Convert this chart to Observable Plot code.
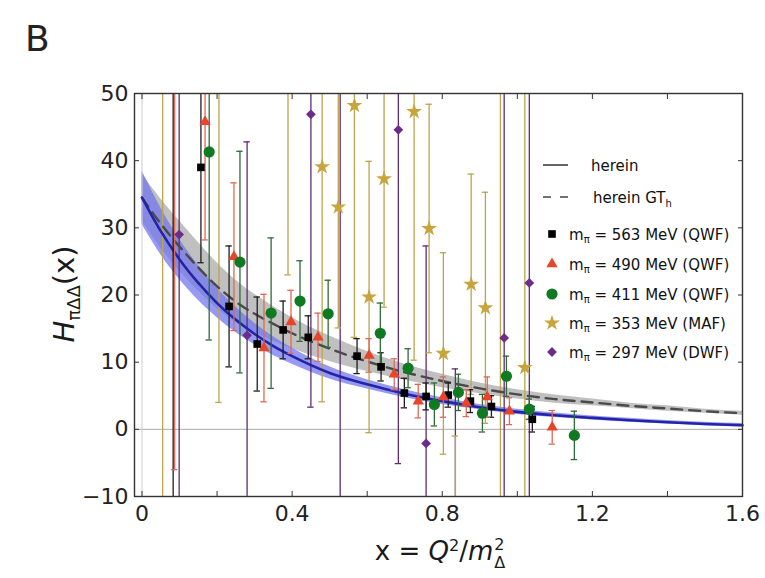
<!DOCTYPE html>
<html>
<head>
<meta charset="utf-8">
<script src="https://cdn.jsdelivr.net/npm/d3@7"></script>
<script src="https://cdn.jsdelivr.net/npm/@observablehq/plot@0.6"></script>
<style>
  html, body { margin:0; padding:0; background:#fff; }
  #wrap { position:relative; width:765px; height:578px; overflow:hidden; font-family:"DejaVu Sans", sans-serif; color:#1a1a1a; }
  #wrap > svg { position:absolute; left:0; top:0; }
  .lbl { position:absolute; white-space:nowrap; z-index:3; line-height:1; }
  #panel { left:25px; top:21px; font-size:36px; color:#222; }
  #ylab { left:64px; top:294px; font-size:29px; transform:translate(-50%,-50%) rotate(-90deg); }
  #ylab .sub { font-size:0.62em; position:relative; top:0.32em; }
  #xlab { left:440px; top:554px; font-size:26px; transform:translate(-50%,-50%); }
  #xlab sup { font-size:0.62em; vertical-align:0.55em; }
  #xlab .ss { display:inline-block; vertical-align:-0.5em; font-size:0.62em; line-height:1.12; text-align:left; margin-left:1px; }
  #xlab .ss span { display:block; }
</style>
</head>
<body>
<div id="wrap">
  <div class="lbl" id="panel">B</div>
  <div class="lbl" id="ylab"><i>H</i><span class="sub">πΔΔ</span>(x)</div>
  <div class="lbl" id="xlab">x = <i>Q</i><sup>2</sup>/<i>m</i><span class="ss"><span>2</span><span>Δ</span></span></div>
</div>
<script>
// ---------- axis ticks ----------
const xMajorTicks = [0, 0.4, 0.8, 1.2, 1.6];
const xMinorTicks = [0.2, 0.6, 1.0, 1.4];
const yTicks = [-10, 0, 10, 20, 30, 40, 50];

// ---------- model curves ----------
const curveX  = [0, 0.05, 0.1, 0.15, 0.2, 0.25, 0.3, 0.35, 0.4, 0.5, 0.6, 0.7, 0.8, 0.9, 1.0, 1.1, 1.2, 1.3, 1.4, 1.5, 1.6];
const herein   = [34.5, 29.5, 25.3, 21.8, 18.8, 16.3, 14.2, 12.4, 10.9, 8.4, 6.7, 5.3, 4.2, 3.3, 2.6, 2.1, 1.7, 1.35, 1.05, 0.8, 0.6];
const hereinLo = [30.5, 26.0, 22.3, 19.2, 16.6, 14.4, 12.6, 11.0, 9.7, 7.5, 6.0, 4.7, 3.7, 2.9, 2.2, 1.75, 1.4, 1.05, 0.8, 0.55, 0.35];
const hereinHi = [38.5, 33.0, 28.3, 24.4, 21.0, 18.2, 15.8, 13.8, 12.1, 9.3, 7.4, 5.9, 4.7, 3.7, 3.0, 2.45, 2.0, 1.65, 1.3, 1.05, 0.85];
const gtH   = [34.5, 30.6, 27.2, 24.1, 21.3, 19.0, 17.2, 15.7, 14.3, 12.0, 10.1, 8.5, 7.2, 6.1, 5.2, 4.5, 4.0, 3.5, 3.1, 2.7, 2.4];
const gtHLo = [31.0, 27.0, 23.6, 20.6, 18.0, 15.9, 14.4, 13.1, 12.0, 10.1, 8.6, 7.3, 6.2, 5.3, 4.5, 3.9, 3.5, 3.1, 2.7, 2.4, 2.1];
const gtHHi = [38.0, 34.3, 31.0, 27.8, 24.8, 22.2, 20.1, 18.3, 16.6, 13.9, 11.6, 9.7, 8.2, 6.9, 5.9, 5.1, 4.5, 3.9, 3.5, 3.0, 2.7];

// ---------- lattice data ----------
// m_pi = 563 MeV (QWF)
const q563X = [0.083, 0.157, 0.232, 0.307, 0.376, 0.443, 0.573, 0.637, 0.699, 0.757, 0.816, 0.875, 0.931, 1.04];
const q563Y = [60, 39.0, 18.3, 12.7, 14.8, 13.7, 10.9, 9.3, 5.4, 4.9, 5.1, 4.2, 3.4, 1.5];
const q563E = [75, 14.2, 9.0, 7.0, 4.3, 3.2, 2.6, 2.1, 2.2, 2.0, 1.8, 1.7, 1.6, 1.9];
// m_pi = 490 MeV (QWF)
const q490X = [0.087, 0.168, 0.245, 0.325, 0.397, 0.469, 0.605, 0.672, 0.736, 0.803, 0.864, 0.92, 0.979, 1.093];
const q490Y = [55, 45.8, 25.7, 12.1, 16.0, 13.7, 11.0, 8.2, 4.2, 4.8, 3.9, 4.8, 2.7, 0.3];
const q490E = [61, 17.6, 11.0, 8.0, 4.7, 3.6, 2.5, 2.3, 2.5, 3.0, 2.0, 3.0, 2.0, 2.5];
// m_pi = 411 MeV (QWF)
const q411X = [0.179, 0.261, 0.344, 0.421, 0.496, 0.635, 0.709, 0.779, 0.843, 0.907, 0.971, 1.032, 1.152];
const q411Y = [41.3, 24.9, 17.3, 19.1, 17.2, 14.3, 9.1, 3.7, 5.5, 2.4, 7.9, 3.0, -0.9];
const q411E = [28, 16.5, 11.2, 6.0, 5.0, 4.5, 2.9, 3.2, 2.7, 2.8, 3.0, 1.5, 3.6];
// m_pi = 353 MeV (MAF)
const m353X = [0.055, 0.205, 0.389, 0.48, 0.523, 0.566, 0.605, 0.645, 0.725, 0.765, 0.803, 0.835, 0.877, 0.915, 0.955, 1.02];
const m353Y = [62, 54, 52, 39.1, 33.1, 48.2, 19.7, 37.3, 47.3, 29.9, 11.3, -20, 21.6, 18.1, 62, 9.2];
const m353E = [80, 50, 29, 35, 18, 34.5, 20.2, 19.1, 37, 18.5, 15.0, 19, 16.4, 17.2, 80, 45];
// m_pi = 297 MeV (DWF)
const d297X = [0.099, 0.28, 0.45, 0.528, 0.683, 0.757, 0.835, 0.965, 1.032];
const d297Y = [29, 14, 46.9, 62, 44.6, -2.1, -16, 13.6, 21.8];
const d297E = [50, 28.8, 43.6, 80, 49.7, 29.4, 25, 40, 34];

const legendLabels = ["563 MeV (QWF)", "490 MeV (QWF)", "411 MeV (QWF)", "353 MeV (MAF)", "297 MeV (DWF)"];

// ---------- build tables ----------
const curveRows = curveX.map((x, i) => ({x, h: herein[i], hLo: hereinLo[i], hHi: hereinHi[i], g: gtH[i], gLo: gtHLo[i], gHi: gtHHi[i]}));
const rows = (xs, ys, es) => xs.map((x, i) => ({x, y: ys[i], e: es[i]}));

const S563 = {rows: rows(q563X, q563Y, q563E), symbol: "square",   fill: "#000000", bar: "#1e1e1e", r: 4.3};
const S490 = {rows: rows(q490X, q490Y, q490E), symbol: "triangle", fill: "#e8442c", bar: "#dd6a55", r: 4.2};
const S411 = {rows: rows(q411X, q411Y, q411E), symbol: "circle",   fill: "#107a22", bar: "#2f6b38", r: 5.6};
const S353 = {rows: rows(m353X, m353Y, m353E), symbol: "star",     fill: "#c8a53c", bar: "#bba44e", r: 5.0};
const S297 = {rows: rows(d297X, d297Y, d297E), symbol: "diamond2", fill: "#6c2c8b", bar: "#5e2d70", r: 4.4};
const legendSeries = [S563, S490, S411, S353, S297];

const capHalf = 0.0085;
function errMarks(s) {
  return [
    Plot.ruleX(s.rows, {x: "x", y1: d => d.y - d.e, y2: d => d.y + d.e, stroke: s.bar, strokeWidth: 1.3, clip: true}),
    Plot.ruleY(s.rows, {y: d => d.y - d.e, x1: d => d.x - capHalf, x2: d => d.x + capHalf, stroke: s.bar, strokeWidth: 1.3, clip: true}),
    Plot.ruleY(s.rows, {y: d => d.y + d.e, x1: d => d.x - capHalf, x2: d => d.x + capHalf, stroke: s.bar, strokeWidth: 1.3, clip: true})
  ];
}
function dotMark(s) {
  return Plot.dot(s.rows, {x: "x", y: "y", symbol: s.symbol, r: s.r, fill: s.fill, stroke: "none", clip: true});
}

const chart = Plot.plot({
  width: 765,
  height: 578,
  marginTop: 93,
  marginBottom: 82,
  marginLeft: 134,
  marginRight: 23,
  style: {fontFamily: "DejaVu Sans, sans-serif", fontSize: "22px", color: "#222", background: "transparent"},
  x: {domain: [-0.02, 1.6]},
  y: {domain: [-10, 50]},
  marks: [
    Plot.areaY(curveRows, {x: "x", y1: "gLo", y2: "gHi", fill: "#b9b9b9", fillOpacity: 0.9, curve: "monotone-x"}),
    Plot.areaY(curveRows, {x: "x", y1: "hLo", y2: "hHi", fill: "#6f73ef", fillOpacity: 0.72, curve: "monotone-x"}),
    Plot.ruleY([0], {stroke: "#aaaaaa", strokeWidth: 1}),
    Plot.ruleX([0], {stroke: "#cccccc", strokeWidth: 1}),
    ...errMarks(S297),
    ...errMarks(S353),
    Plot.line(curveRows, {x: "x", y: "g", stroke: "#4a4a4a", strokeWidth: 2.4, strokeDasharray: "11,7", curve: "monotone-x"}),
    Plot.line(curveRows, {x: "x", y: "h", stroke: "#2424a8", strokeWidth: 2.6, curve: "monotone-x"}),
    ...errMarks(S563),
    ...errMarks(S490),
    ...errMarks(S411),
    dotMark(S353),
    dotMark(S297),
    dotMark(S563),
    dotMark(S490),
    dotMark(S411),
    Plot.frame({stroke: "#333", strokeWidth: 1.4}),
    Plot.axisX(xMajorTicks, {anchor: "bottom", tickSize: -5, tickPadding: 14, tickFormat: d => String(d), label: null, stroke: "#333", fill: "#222"}),
    Plot.axisX(xMinorTicks, {anchor: "bottom", tickSize: -5, tickFormat: () => "", label: null, stroke: "#333"}),
    Plot.axisX([...xMajorTicks, ...xMinorTicks], {anchor: "top", tickSize: -5, tickFormat: () => "", label: null, stroke: "#333"}),
    Plot.axisY(yTicks, {anchor: "left", tickSize: -5, tickPadding: 11, label: null, stroke: "#333", fill: "#222"}),
    Plot.axisY(yTicks, {anchor: "right", tickSize: -5, tickFormat: () => "", label: null, stroke: "#333"})
  ]
});
document.getElementById("wrap").prepend(chart);

// ---------- legend (inside the plot, upper right) ----------
const leg = d3.select("#wrap").append("svg")
  .attr("width", 765).attr("height", 578)
  .style("position", "absolute").style("left", "0px").style("top", "0px").style("z-index", 2)
  .attr("font-family", "DejaVu Sans, sans-serif").attr("font-size", 15).attr("fill", "#111");

leg.append("line").attr("x1", 543).attr("x2", 568).attr("y1", 165).attr("y2", 165).attr("stroke", "#111").attr("stroke-width", 1.3);
leg.append("line").attr("x1", 543).attr("x2", 568).attr("y1", 197).attr("y2", 197).attr("stroke", "#444").attr("stroke-width", 1.3).attr("stroke-dasharray", "8,9");
leg.append("text").attr("x", 591).attr("y", 170.5).text("herein");
const t2 = leg.append("text").attr("x", 593).attr("y", 202.5);
t2.append("tspan").text("herein GT");
t2.append("tspan").attr("font-size", 10).attr("dy", 4).text("h");

const rowY = [234, 264, 294, 323, 352];
const symMap = {square: d3.symbolSquare, triangle: d3.symbolTriangle, circle: d3.symbolCircle, star: d3.symbolStar, diamond2: d3.symbolDiamond2};
legendSeries.forEach((s, i) => {
  leg.append("path")
    .attr("transform", `translate(552,${rowY[i]})`)
    .attr("d", d3.symbol(symMap[s.symbol], Math.PI * s.r * s.r)())
    .attr("fill", s.fill);
  const t = leg.append("text").attr("x", 569).attr("y", rowY[i] + 5.5);
  t.append("tspan").text("m");
  t.append("tspan").attr("font-size", 10).attr("dy", 3).text("π");
  t.append("tspan").attr("dy", -3).text(" = " + legendLabels[i]);
});
</script>
</body>
</html>
